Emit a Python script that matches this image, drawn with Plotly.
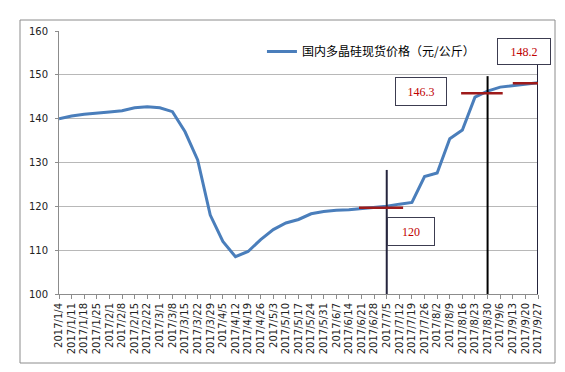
import plotly.graph_objects as go

dates = ["2017/1/4", "2017/1/11", "2017/1/18", "2017/1/25", "2017/2/1", "2017/2/8",
         "2017/2/15", "2017/2/22", "2017/3/1", "2017/3/8", "2017/3/15", "2017/3/22",
         "2017/3/29", "2017/4/5", "2017/4/12", "2017/4/19", "2017/4/26", "2017/5/3",
         "2017/5/10", "2017/5/17", "2017/5/24", "2017/5/31", "2017/6/7", "2017/6/14",
         "2017/6/21", "2017/6/28", "2017/7/5", "2017/7/12", "2017/7/19", "2017/7/26",
         "2017/8/2", "2017/8/9", "2017/8/16", "2017/8/23", "2017/8/30", "2017/9/6",
         "2017/9/13", "2017/9/20", "2017/9/27"]
prices = [140.0, 140.6, 141.0, 141.2, 141.5, 141.8, 142.5, 142.7, 142.5, 141.6,
          137.0, 130.6, 118.0, 112.0, 108.5, 109.7, 112.4, 114.7, 116.2,
          117.0, 118.3, 118.8, 119.1, 119.2, 119.5, 119.7, 120.0,
          120.5, 120.9, 126.8, 127.6, 135.4, 137.4, 144.9, 146.3, 147.2, 147.5, 147.8, 148.2]
series_name = "国内多晶硅现货价格（元/公斤）"

mark_dates = ["2017/7/5", "2017/8/30", "2017/9/27"]
mark_values = [120, 146.3, 148.2]
mark_labels = ["120", "146.3", "148.2"]

y_ticks = [100, 110, 120, 130, 140, 150, 160]

# styling for the marker annotations
vline_tops = [128.3, 149.7, 152.5]
vline_colors = ["#25253d", "#000000", "#25253d"]
seg_offsets = [(-2.2, 1.3), (-2.1, 1.2), (-2.0, 1.0)]
seg_shift = [-0.3, -0.5, -0.1]
box_offsets = [(1.9, 114.3), (-5.3, 146.3), (-1.1, 155.4)]
box_sizes = [(46, 27), (50, 27), (52, 25)]

fig = go.Figure()
fig.add_trace(go.Scatter(
    x=dates, y=prices, mode="lines", name=series_name,
    line=dict(color="#4a7ebb", width=3), showlegend=True,
))

shapes = []
annotations = []
for d, v, lab, top, vc, (s0, s1), sh, (bx, by), (bw, bh) in zip(
        mark_dates, mark_values, mark_labels, vline_tops, vline_colors,
        seg_offsets, seg_shift, box_offsets, box_sizes):
    i = dates.index(d)
    shapes.append(dict(type="line", xref="x", yref="y", x0=i, x1=i, y0=y_ticks[0], y1=top,
                       line=dict(color=vc, width=2)))
    shapes.append(dict(type="line", xref="x", yref="y", x0=i + s0, x1=i + s1,
                       y0=v + sh, y1=v + sh,
                       line=dict(color="#9e1a1a", width=2.5)))
    annotations.append(dict(
        xref="x", yref="y", x=i + bx, y=by, text=lab, showarrow=False,
        font=dict(family="Liberation Serif", size=12, color="#c00000"),
        bgcolor="#ffffff", bordercolor="#3c3c50", borderwidth=1, borderpad=0,
        width=bw, height=bh, align="center", valign="middle",
    ))

# outer chart border
shapes.append(dict(type="rect", xref="paper", yref="paper",
                   x0=-0.0814, x1=1.0355, y0=-0.2624, y1=1.0418,
                   line=dict(color="#8c8c8c", width=1), fillcolor="rgba(0,0,0,0)", layer="below"))

fig.update_layout(
    width=549, height=356,
    margin=dict(l=51, r=19, t=23, b=70),
    paper_bgcolor="#ffffff", plot_bgcolor="#ffffff",
    font=dict(family="DejaVu Sans", size=10, color="#222222"),
    shapes=shapes, annotations=annotations,
    showlegend=True,
    legend=dict(x=0.4237, y=0.922, xanchor="left", yanchor="middle",
                bgcolor="rgba(0,0,0,0)", itemwidth=30,
                font=dict(family="Noto Sans CJK SC", size=12, color="#000000")),
    xaxis=dict(
        type="category", range=[0, len(dates) - 1], tickangle=-90,
        showgrid=False, showline=True, linecolor="#8c8c8c", linewidth=1,
        ticks="outside", ticklen=4, tickcolor="#8c8c8c",
        tickfont=dict(family="DejaVu Sans", size=10, color="#222222"),
        zeroline=False, automargin=False,
    ),
    yaxis=dict(
        range=[y_ticks[0], y_ticks[-1]], tickvals=y_ticks,
        showgrid=True, gridcolor="#b8b8b8", gridwidth=1,
        showline=True, linecolor="#8c8c8c", linewidth=1,
        ticks="outside", ticklen=3, tickcolor="#8c8c8c", ticklabelstandoff=5,
        tickfont=dict(family="DejaVu Sans", size=10, color="#222222"),
        zeroline=False, automargin=False,
    ),
)

fig.write_html("out.html")
